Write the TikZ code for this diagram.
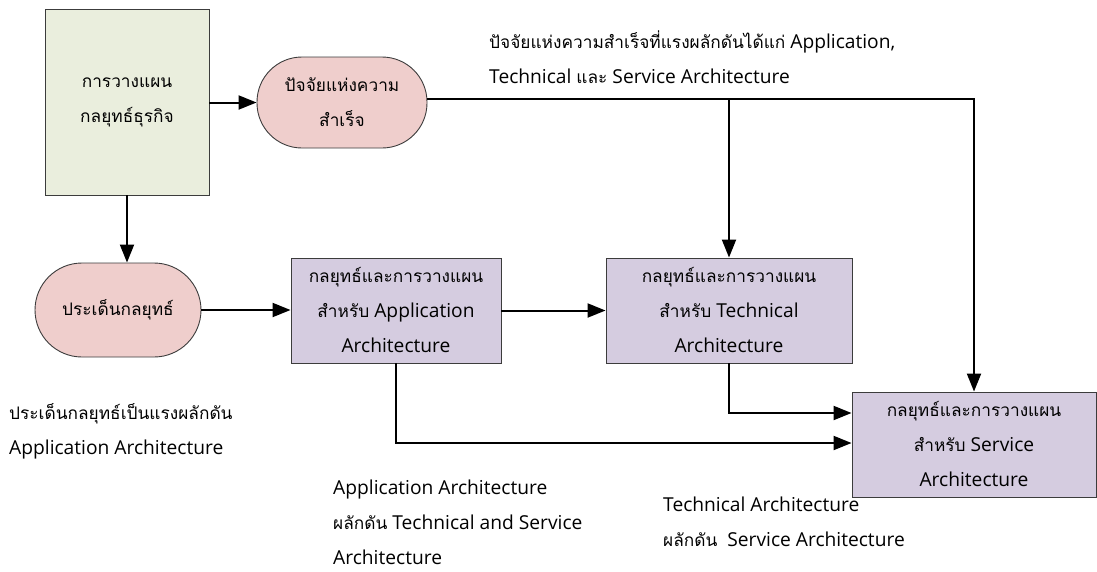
\documentclass[tikz,border=0pt]{standalone}
\usepackage{fontspec}
\setmainfont{Open Sans}
\newfontfamily\thaifont[Script=Thai, Scale=0.9]{Loma}
\newcommand{\tf}[1]{{\thaifont #1}}
\usetikzlibrary{arrows.meta}
\definecolor{planfill}{RGB}{234,238,221}
\definecolor{pillfill}{RGB}{239,206,204}
\definecolor{boxfill}{RGB}{213,204,224}
\definecolor{edgegray}{RGB}{60,60,60}
\tikzset{
  every node/.style={font=\fontsize{19.2}{35}\selectfont, align=center, inner sep=0pt},
  planbox/.style={draw=edgegray, line width=0.9pt, fill=planfill, minimum width=164pt, minimum height=186pt},
  pill/.style={draw=edgegray, line width=0.9pt, fill=pillfill, rounded corners=45pt},
  archbox/.style={draw=edgegray, line width=0.9pt, fill=boxfill, minimum height=105pt},
  note/.style={align=left, anchor=west},
  arr/.style={line width=2pt, -{Triangle[length=18pt,width=14pt]}},
}
\begin{document}
\begin{tikzpicture}[x=1pt, y=-1pt]
\useasboundingbox (0,0) rectangle (1097,571);

% main blocks
\node[planbox] (plan) at (127,102) {\tf{การวางแผน}\\\tf{กลยุทธ์ธุรกิจ}};
\node[pill, minimum width=170pt, minimum height=91pt] (csf) at (342,102.5) {\tf{ปัจจัยแห่งความ}\\\tf{สำเร็จ}};
\node[pill, minimum width=166pt, minimum height=94pt, rounded corners=47pt] (issue) at (118,310) {\tf{ประเด็นกลยุทธ์}};
\node[archbox, minimum width=210pt] (app) at (396,310.5) {\tf{กลยุทธ์และการวางแผน}\\\tf{สำหรับ} Application\\Architecture};
\node[archbox, minimum width=246pt] (tech) at (729,310.5) {\tf{กลยุทธ์และการวางแผน}\\\tf{สำหรับ} Technical\\Architecture};
\node[archbox, minimum width=244pt] (svc) at (974,444.5) {\tf{กลยุทธ์และการวางแผน}\\\tf{สำหรับ} Service\\Architecture};

% explanatory notes
\node[note] (n1) at (489,57) {\tf{ปัจจัยแห่งความสำเร็จที่แรงผลักดันได้แก่} Application,\\Technical \tf{และ} Service Architecture};
\node[note] (n2) at (9,431) {\tf{ประเด็นกลยุทธ์เป็นแรงผลักดัน}\\Application Architecture};
\node[note] (n3) at (333,522) {Application Architecture\\\tf{ผลักดัน} Technical and Service\\Architecture};
\node[note] (n4) at (663,521.5) {Technical Architecture\\\tf{ผลักดัน}\ \ Service Architecture};

% connectors
\draw[arr] (plan.east |- csf.west) -- (csf.west);
\draw[arr] (plan.south) -- (plan.south |- issue.north);
\draw[arr] (issue.east) -- (issue.east -| app.west);
\draw[arr] (app.east) -- (tech.west);
\coordinate (top) at ([yshift=4pt]csf.east);
\draw[arr] (top) -| (svc.north);
\draw[arr] (top -| tech.north) -- (tech.north);
\draw[arr] (tech.south) |- ([yshift=31.5pt]svc.west);
\draw[arr] (app.south) |- ([yshift=1.5pt]svc.west);
\end{tikzpicture}
\end{document}
